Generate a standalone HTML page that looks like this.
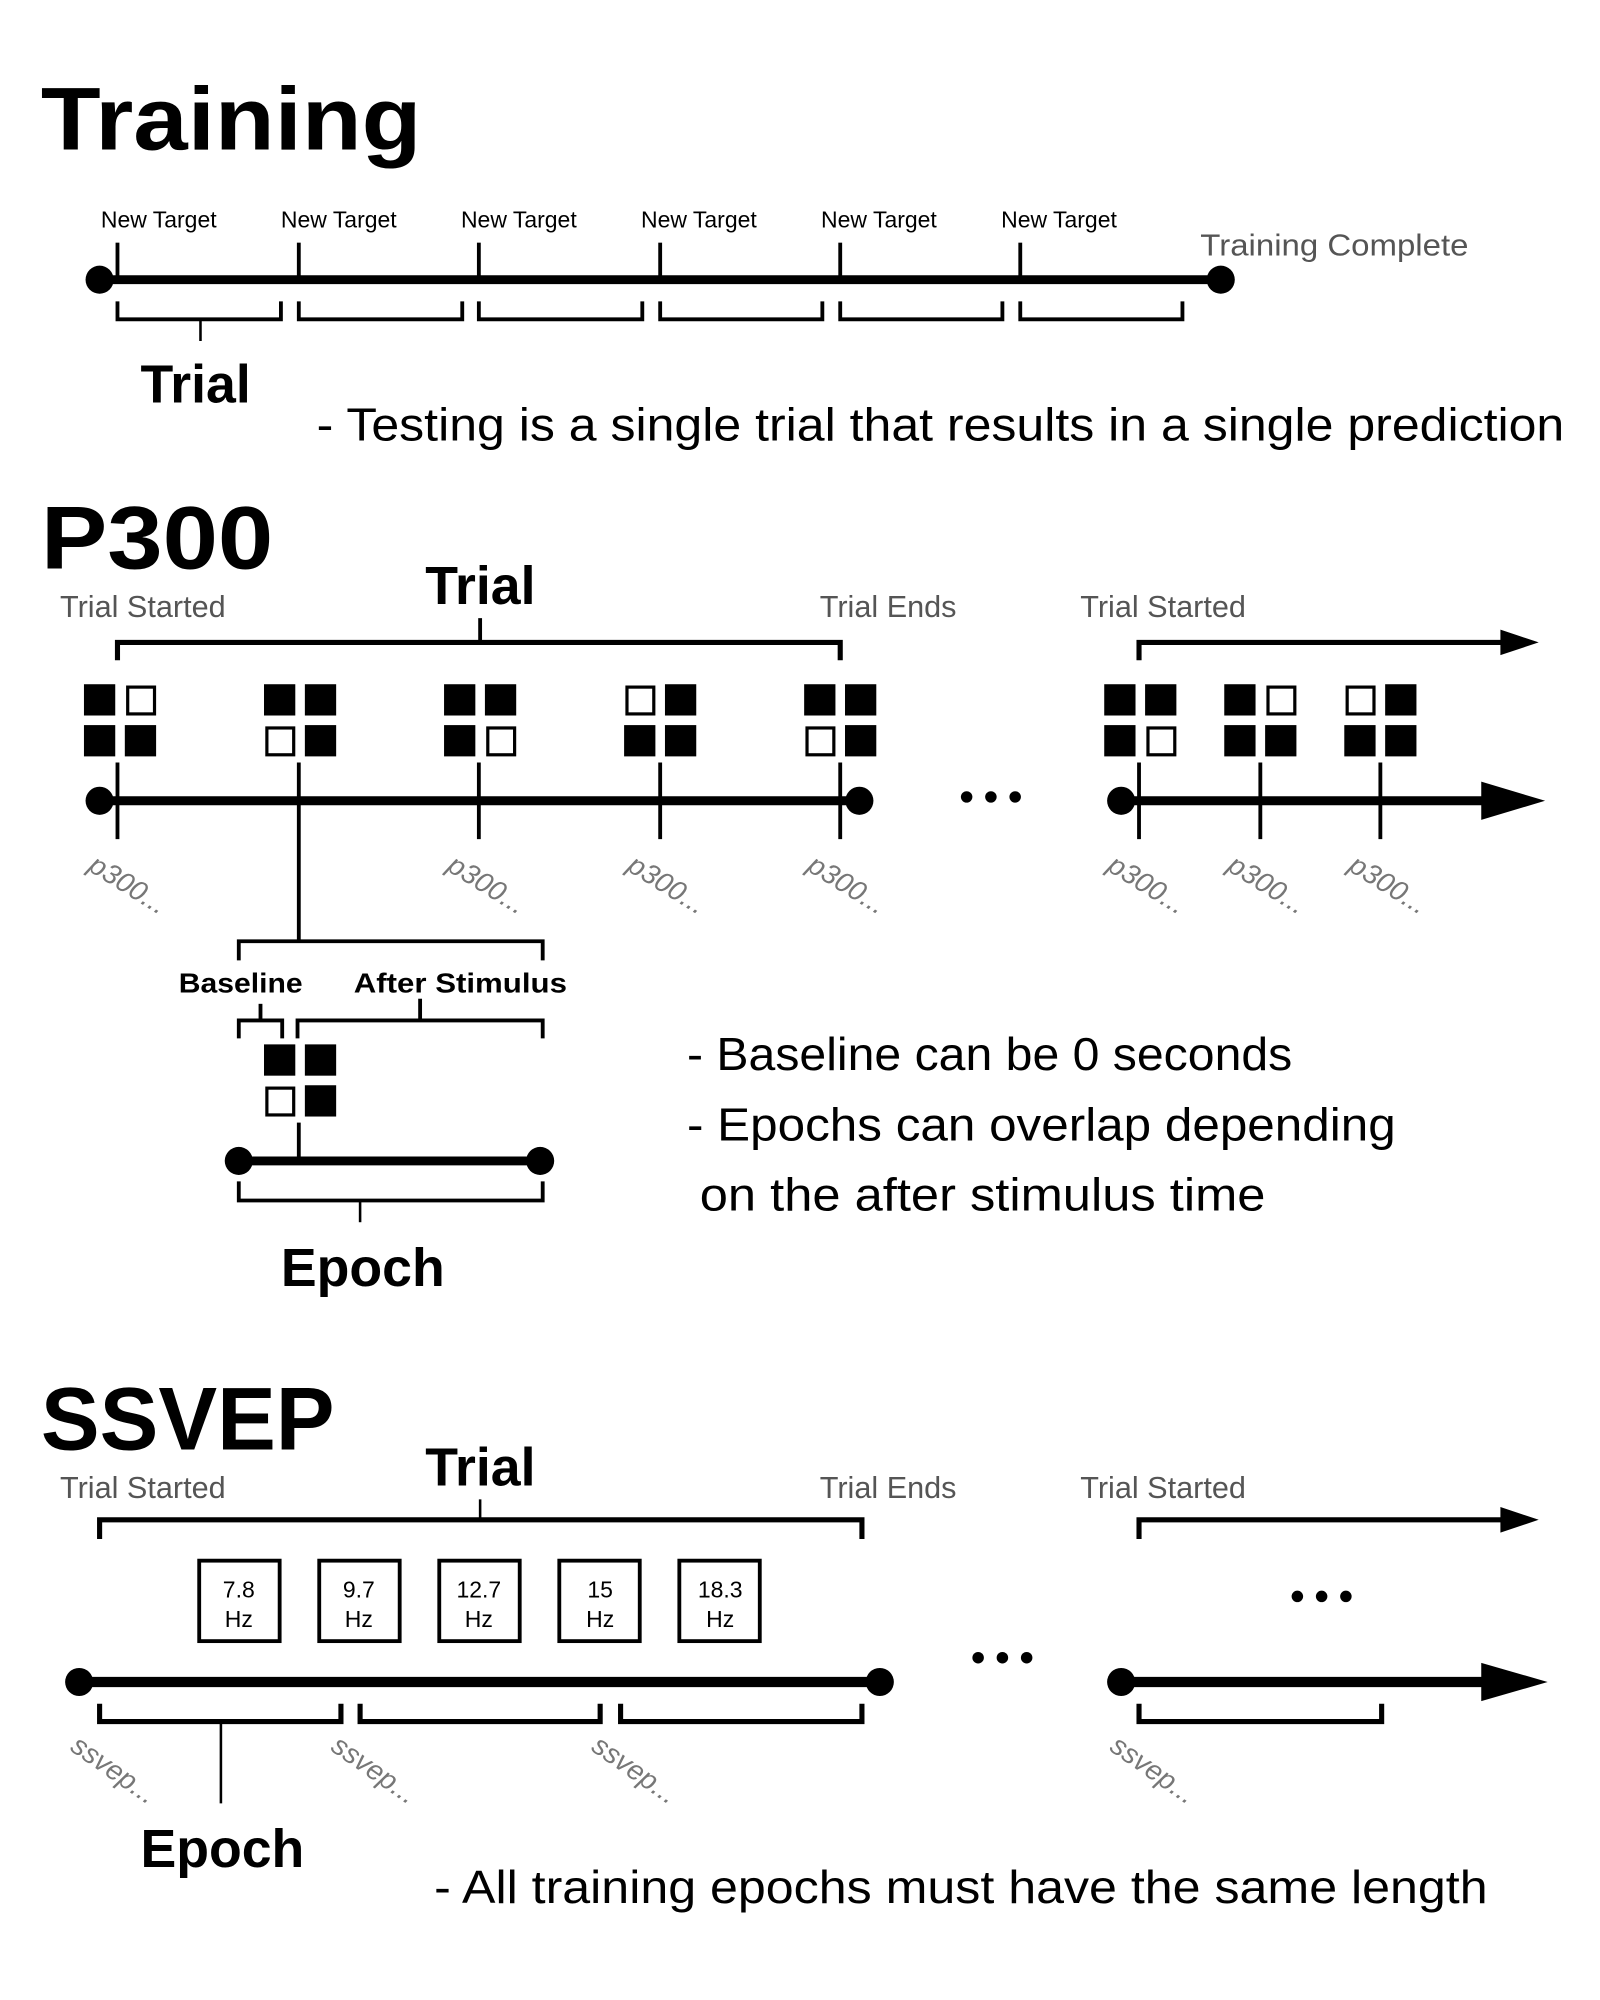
<!DOCTYPE html>
<html><head><meta charset="utf-8"><style>
html,body{margin:0;padding:0;background:#fff;}
svg{display:block;}
text{font-family:"Liberation Sans",sans-serif;}
.t{font-weight:bold;font-size:70px;}
.b{font-weight:bold;font-size:42px;}
.g{fill:#555;font-size:24px;}
.r{fill:#777;font-size:22px;font-style:italic;}
.n{font-size:36px;}
</style></head><body>
<svg width="1600" height="2000" viewBox="0 0 1253 1566" preserveAspectRatio="none" xmlns="http://www.w3.org/2000/svg">
<defs>
<g id="ff"><rect x="0" y="0" width="22" height="22"/></g>
</defs>
<g stroke="#000" fill="none">
<!-- Training -->
<line x1="78" y1="219" x2="956" y2="219" stroke-width="7"/>
<g stroke-width="3">
<line x1="92" y1="190" x2="92" y2="219"/><line x1="234" y1="190" x2="234" y2="219"/><line x1="375" y1="190" x2="375" y2="219"/><line x1="517" y1="190" x2="517" y2="219"/><line x1="658" y1="190" x2="658" y2="219"/><line x1="799" y1="190" x2="799" y2="219"/>
<polyline points="92,236 92,250 220,250 220,236"/><polyline points="234,236 234,250 362,250 362,236"/><polyline points="375,236 375,250 503,250 503,236"/><polyline points="517,236 517,250 644,250 644,236"/><polyline points="658,236 658,250 785,250 785,236"/><polyline points="799,236 799,250 926,250 926,236"/>
</g>
<line x1="157" y1="250" x2="157" y2="267" stroke-width="2"/>
<!-- P300 -->
<g stroke-width="4">
<polyline points="92,517 92,503 658,503 658,517"/>
<polyline points="892,517 892,503 1195,503"/>
</g>
<line x1="376" y1="484" x2="376" y2="503" stroke-width="3"/>
<line x1="78" y1="627" x2="673" y2="627" stroke-width="7"/>
<line x1="878" y1="627" x2="1190" y2="627" stroke-width="7"/>
<g stroke-width="3">
<line x1="92" y1="597" x2="92" y2="657"/><line x1="234" y1="597" x2="234" y2="737"/><line x1="375" y1="597" x2="375" y2="657"/><line x1="517" y1="597" x2="517" y2="657"/><line x1="658" y1="597" x2="658" y2="657"/>
<line x1="892" y1="597" x2="892" y2="657"/><line x1="987" y1="597" x2="987" y2="657"/><line x1="1081" y1="597" x2="1081" y2="657"/>
<polyline points="187,752 187,737 425,737 425,752"/>
<line x1="204" y1="786" x2="204" y2="799"/><line x1="329" y1="782" x2="329" y2="799"/>
<polyline points="187,813 187,799 221,799 221,813"/>
<polyline points="233,813 233,799 425,799 425,813"/>
<line x1="234" y1="879" x2="234" y2="909"/>
<polyline points="187,925 187,940 425,940 425,925"/>
<line x1="282" y1="940" x2="282" y2="957" stroke-width="2"/>
</g>
<line x1="187" y1="909" x2="423" y2="909" stroke-width="7"/>
<!-- SSVEP -->
<g stroke-width="4">
<polyline points="78,1205 78,1190 675,1190 675,1205"/>
<polyline points="892,1205 892,1190 1195,1190"/>
<polyline points="78,1334 78,1348 267,1348 267,1334"/>
<polyline points="282,1334 282,1348 470,1348 470,1334"/>
<polyline points="486,1334 486,1348 675,1348 675,1334"/>
<polyline points="892,1334 892,1348 1082,1348 1082,1334"/>
</g>
<line x1="376" y1="1174" x2="376" y2="1190" stroke-width="2"/>
<line x1="173" y1="1348" x2="173" y2="1412" stroke-width="2"/>
<line x1="62" y1="1317" x2="689" y2="1317" stroke-width="8"/>
<line x1="878" y1="1317" x2="1190" y2="1317" stroke-width="8"/>
<g stroke-width="3">
<rect x="156" y="1222" width="63" height="63"/><rect x="250" y="1222" width="63" height="63"/><rect x="344" y="1222" width="63" height="63"/><rect x="438" y="1222" width="63" height="63"/><rect x="532" y="1222" width="63" height="63"/>
</g>
</g>
<g fill="#000">
<circle cx="78" cy="219" r="11"/><circle cx="956" cy="219" r="11"/>
<circle cx="78" cy="627" r="11"/><circle cx="673" cy="627" r="11"/><circle cx="878" cy="627" r="11"/>
<circle cx="187" cy="909" r="11"/><circle cx="423" cy="909" r="11"/>
<circle cx="62" cy="1317" r="11"/><circle cx="689" cy="1317" r="11"/><circle cx="878" cy="1317" r="11"/>
<polygon points="1175,493 1205,503 1175,513"/>
<polygon points="1160,612 1210,627 1160,642"/>
<polygon points="1175,1180 1205,1190 1175,1200"/>
<polygon points="1160,1302 1212,1317 1160,1332"/>
<circle cx="757" cy="624" r="4.5"/><circle cx="776" cy="624" r="4.5"/><circle cx="795" cy="624" r="4.5"/>
<circle cx="766" cy="1298" r="4.5"/><circle cx="785" cy="1298" r="4.5"/><circle cx="804" cy="1298" r="4.5"/>
<circle cx="1016" cy="1250" r="4.5"/><circle cx="1035" cy="1250" r="4.5"/><circle cx="1054" cy="1250" r="4.5"/>
</g>
<!-- 2x2 squares: filled rect or outlined -->
<g id="sq" stroke="#000" stroke-width="2.5">
<!-- group1 at 67 -->
<rect x="67" y="537" width="22" height="22" fill="#000"/><rect x="100" y="538" width="21" height="21" fill="#fff"/><rect x="67" y="569" width="22" height="22" fill="#000"/><rect x="99" y="569" width="22" height="22" fill="#000"/>
<rect x="208" y="537" width="22" height="22" fill="#000"/><rect x="240" y="537" width="22" height="22" fill="#000"/><rect x="209" y="570" width="21" height="21" fill="#fff"/><rect x="240" y="569" width="22" height="22" fill="#000"/>
<rect x="349" y="537" width="22" height="22" fill="#000"/><rect x="381" y="537" width="22" height="22" fill="#000"/><rect x="349" y="569" width="22" height="22" fill="#000"/><rect x="382" y="570" width="21" height="21" fill="#fff"/>
<rect x="491" y="538" width="21" height="21" fill="#fff"/><rect x="522" y="537" width="22" height="22" fill="#000"/><rect x="490" y="569" width="22" height="22" fill="#000"/><rect x="522" y="569" width="22" height="22" fill="#000"/>
<rect x="631" y="537" width="22" height="22" fill="#000"/><rect x="663" y="537" width="22" height="22" fill="#000"/><rect x="632" y="570" width="21" height="21" fill="#fff"/><rect x="663" y="569" width="22" height="22" fill="#000"/>
<rect x="866" y="537" width="22" height="22" fill="#000"/><rect x="898" y="537" width="22" height="22" fill="#000"/><rect x="866" y="569" width="22" height="22" fill="#000"/><rect x="899" y="570" width="21" height="21" fill="#fff"/>
<rect x="960" y="537" width="22" height="22" fill="#000"/><rect x="993" y="538" width="21" height="21" fill="#fff"/><rect x="960" y="569" width="22" height="22" fill="#000"/><rect x="992" y="569" width="22" height="22" fill="#000"/>
<rect x="1055" y="538" width="21" height="21" fill="#fff"/><rect x="1086" y="537" width="22" height="22" fill="#000"/><rect x="1054" y="569" width="22" height="22" fill="#000"/><rect x="1086" y="569" width="22" height="22" fill="#000"/>
<rect x="208" y="819" width="22" height="22" fill="#000"/><rect x="240" y="819" width="22" height="22" fill="#000"/><rect x="209" y="852" width="21" height="21" fill="#fff"/><rect x="240" y="851" width="22" height="22" fill="#000"/>
</g>
<!-- Text -->
<text class="t" x="32" y="117" textLength="298" lengthAdjust="spacingAndGlyphs">Training</text>
<g font-size="18">
<text x="79" y="178">New Target</text><text x="220" y="178">New Target</text><text x="361" y="178">New Target</text><text x="502" y="178">New Target</text><text x="643" y="178">New Target</text><text x="784" y="178">New Target</text>
</g>
<text class="g" x="940" y="200" textLength="210" lengthAdjust="spacingAndGlyphs">Training Complete</text>
<text class="b" x="110" y="315">Trial</text>
<text class="n" x="248" y="345" textLength="977" lengthAdjust="spacingAndGlyphs">- Testing is a single trial that results in a single prediction</text>

<text class="t" x="32" y="445" textLength="182" lengthAdjust="spacingAndGlyphs">P300</text>
<text class="b" x="333" y="473">Trial</text>
<text class="g" x="47" y="483">Trial Started</text><text class="g" x="642" y="483">Trial Ends</text><text class="g" x="846" y="483">Trial Started</text>
<g class="r">
<text transform="translate(68,681) rotate(32)">p300...</text>
<text transform="translate(349,681) rotate(32)">p300...</text>
<text transform="translate(490,681) rotate(32)">p300...</text>
<text transform="translate(631,681) rotate(32)">p300...</text>
<text transform="translate(866,681) rotate(32)">p300...</text>
<text transform="translate(960,681) rotate(32)">p300...</text>
<text transform="translate(1055,681) rotate(32)">p300...</text>
</g>
<text x="140" y="777" font-size="22" font-weight="bold" textLength="97" lengthAdjust="spacingAndGlyphs">Baseline</text>
<text x="277" y="777" font-size="22" font-weight="bold" textLength="167" lengthAdjust="spacingAndGlyphs">After Stimulus</text>
<text class="b" x="220" y="1007">Epoch</text>
<text class="n" x="538" y="838" textLength="474" lengthAdjust="spacingAndGlyphs">- Baseline can be 0 seconds</text>
<text class="n" x="538" y="893" textLength="555" lengthAdjust="spacingAndGlyphs">- Epochs can overlap depending</text>
<text class="n" x="548" y="948" textLength="443" lengthAdjust="spacingAndGlyphs">on the after stimulus time</text>

<text class="t" x="32" y="1135" textLength="230" lengthAdjust="spacingAndGlyphs">SSVEP</text>
<text class="b" x="333" y="1163">Trial</text>
<text class="g" x="47" y="1173">Trial Started</text><text class="g" x="642" y="1173">Trial Ends</text><text class="g" x="846" y="1173">Trial Started</text>
<g font-size="18" text-anchor="middle">
<text x="187" y="1251">7.8</text><text x="187" y="1274">Hz</text>
<text x="281" y="1251">9.7</text><text x="281" y="1274">Hz</text>
<text x="375" y="1251">12.7</text><text x="375" y="1274">Hz</text>
<text x="470" y="1251">15</text><text x="470" y="1274">Hz</text>
<text x="564" y="1251">18.3</text><text x="564" y="1274">Hz</text>
</g>
<g class="r">
<text transform="translate(54,1370) rotate(35)">ssvep...</text>
<text transform="translate(258,1370) rotate(35)">ssvep...</text>
<text transform="translate(462,1370) rotate(35)">ssvep...</text>
<text transform="translate(868,1370) rotate(35)">ssvep...</text>
</g>
<text class="b" x="110" y="1462">Epoch</text>
<text class="n" x="340" y="1490" textLength="825" lengthAdjust="spacingAndGlyphs">- All training epochs must have the same length</text>
</svg>
</body></html>
